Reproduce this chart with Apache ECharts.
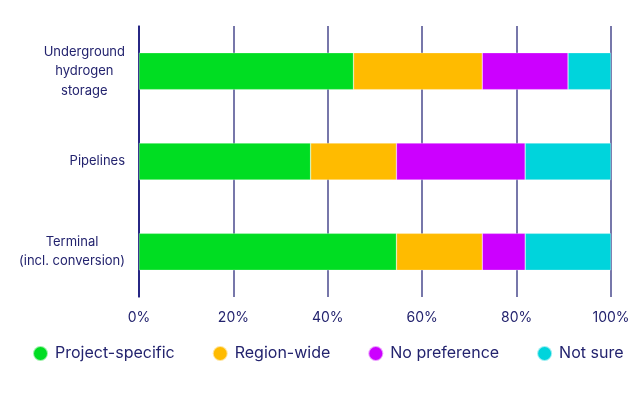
<!DOCTYPE html>
<html>
<head>
<meta charset="utf-8">
<script src="https://cdn.jsdelivr.net/npm/echarts@6/dist/echarts.min.js"></script>
<style>
  html, body { margin: 0; padding: 0; background: #ffffff; }
  #chart { width: 638px; height: 397px; }
</style>
</head>
<body>
<div id="chart"></div>
<script>
// Infrastructure types (top to bottom)
const categories = ['Underground\nhydrogen\nstorage', 'Pipelines', 'Terminal\n(incl. conversion)'];
const seriesNames = ['Project-specific', 'Region-wide', 'No preference', 'Not sure'];
// Share of respondents, percent
const projectSpecific = [45.45, 36.36, 54.55];
const regionWide      = [27.27, 18.18, 18.18];
const noPreference    = [18.18, 27.27, 9.09];
const notSure         = [9.09, 18.18, 18.18];
const tickLabels = ['0%', '20%', '40%', '60%', '80%', '100%'];

const colors = ['#00dd22', '#ffbb00', '#cc00ff', '#00d4dc'];
const values = [projectSpecific, regionWide, noPreference, notSure];
const navy = '#23236e';

const chart = echarts.init(document.getElementById('chart'), null, { renderer: 'canvas' });
chart.setOption({
  animation: false,
  color: colors,
  textStyle: { fontFamily: 'Inter, "Noto Sans", sans-serif' },
  grid: { left: 139, right: 27, top: 26, height: 271, containLabel: false },
  legend: {
    bottom: 35,
    left: 32,
    width: 606,
    padding: 0,
    itemGap: 37,
    icon: 'circle',
    itemWidth: 15,
    itemHeight: 15,
    textStyle: { fontSize: 16, color: navy, padding: [0, 0, 0, 2] },
    data: seriesNames
  },
  xAxis: {
    type: 'value',
    min: 0, max: 100, interval: 20,
    axisLine: { show: false },
    axisTick: { show: false },
    splitLine: { show: true, lineStyle: { color: '#4a4a8e', width: 1.5 } },
    axisLabel: {
      color: navy, fontSize: 14, margin: 14,
      formatter: v => tickLabels[Math.round(v / 20)]
    }
  },
  yAxis: {
    type: 'category',
    inverse: true,
    data: categories,
    axisLine: { show: true, lineStyle: { color: '#0e0e78', width: 1.5 } },
    axisTick: { show: false },
    axisLabel: {
      color: navy, fontSize: 13, lineHeight: 19.5, margin: 14, align: 'right',
      // each line centred within the right-aligned label block
      formatter: v => v.split('\n').map(s => '{c|' + s + '}').join('\n'),
      rich: { c: { align: 'center', fontSize: 13, lineHeight: 19.5, color: navy } }
    }
  },
  series: seriesNames.map((name, i) => ({
    name,
    type: 'bar',
    stack: 'total',
    barWidth: 37,
    data: values[i],
    itemStyle: { color: colors[i], borderColor: 'rgba(255,255,255,0.6)', borderWidth: 0.5 }
  }))
});
</script>
</body>
</html>
